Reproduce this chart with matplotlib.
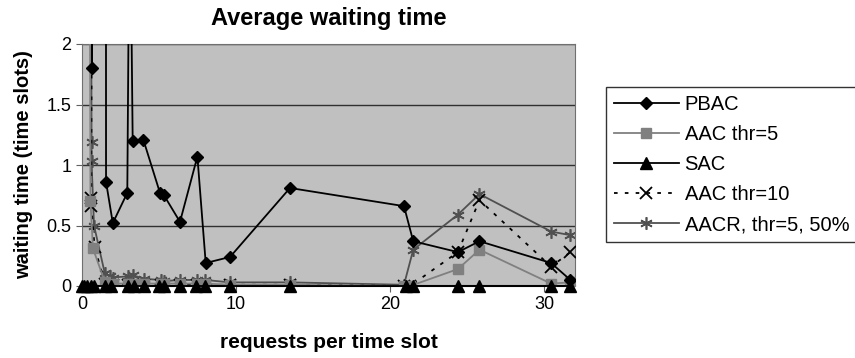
import numpy as np
import matplotlib.pyplot as plt

plt.rcParams['font.family'] = ['Liberation Sans', 'DejaVu Sans']

# data (values above 2 run off the top of the plot)
pbac_x = [0.5, 0.65, 0.72, 1.55, 1.56, 2.0, 2.94, 3.1, 3.29, 3.98, 5.06, 5.32, 6.36,
          7.49, 8.03, 9.61, 13.5, 20.9, 21.5, 24.4, 25.8, 30.45, 31.7]
pbac_y = [6.0, 1.8, 6.0, 6.0, 0.86, 0.52, 0.77, 3.5, 1.2, 1.21, 0.77, 0.75, 0.53,
          1.07, 0.19, 0.24, 0.81, 0.66, 0.37, 0.28, 0.37, 0.19, 0.05]

aac5_x = [0.48, 0.55, 0.71, 1.5, 2.0, 3.0, 3.3, 4.0, 5.1, 5.3, 6.35, 7.45, 8.0, 9.6,
          13.5, 20.9, 21.3, 24.4, 25.8, 30.45, 31.7]
aac5_y = [4.0, 0.70, 0.31, 0.03, 0.02, 0.02, 0.02, 0.02, 0.02, 0.02, 0.02, 0.02, 0.02,
          0.01, 0.01, 0.0, 0.0, 0.14, 0.30, 0.02, 0.03]

sac_x = [0.0, 0.15, 0.3, 0.6, 0.75, 1.47, 1.9, 3.0, 3.4, 4.0, 5.0, 5.3, 6.35, 7.4,
         8.0, 9.6, 13.5, 21.0, 21.5, 24.4, 25.8, 30.45, 31.7]
sac_y = [0.0] * len(sac_x)

aac10_x = [0.68, 0.6, 0.6, 0.82, 1.5, 2.0, 3.0, 4.0, 5.1, 6.35, 7.45, 8.0, 9.6,
           13.5, 20.9, 21.3, 24.4, 25.8, 30.45, 31.7]
aac10_y = [5.0, 0.73, 0.66, 0.32, 0.02, 0.01, 0.01, 0.01, 0.01, 0.01, 0.01, 0.01,
           0.01, 0.01, 0.0, 0.0, 0.28, 0.71, 0.16, 0.28]

aacr_x = [0.55, 0.62, 0.62, 0.78, 1.47, 1.8, 2.0, 3.0, 3.3, 4.0, 5.1, 5.3, 6.35,
          7.45, 8.0, 9.6, 13.5, 20.9, 21.5, 24.4, 25.8, 30.45, 31.7]
aacr_y = [5.0, 1.19, 1.03, 0.50, 0.11, 0.08, 0.07, 0.08, 0.09, 0.06, 0.05, 0.04,
          0.05, 0.05, 0.05, 0.03, 0.03, 0.01, 0.30, 0.59, 0.76, 0.45, 0.42]

x_ticks = [0, 10, 20, 30]
y_ticks = [0, 0.5, 1, 1.5, 2]
y_tick_labels = ['0', '0.5', '1', '1.5', '2']

fig = plt.figure(figsize=(8.55, 3.58), dpi=100)
ax = fig.add_axes([82/855, 1 - 286/358, (575-82)/855, (286-44)/358])
ax.set_facecolor('#c0c0c0')

ax.plot(pbac_x, pbac_y, color='black', lw=1.3, marker='D', ms=6.5,
        label='PBAC', zorder=5)
ax.plot(aac5_x, aac5_y, color='#808080', lw=1.3, marker='s', ms=6.5,
        label='AAC thr=5', zorder=4)
ax.plot(sac_x, sac_y, color='black', lw=1.3, marker='^', ms=8,
        label='SAC', zorder=6, clip_on=False)
ax.plot(aac10_x, aac10_y, color='black', lw=1.3, ls=(0, (2, 4)), marker='x', ms=8,
        mew=1.3, label='AAC thr=10', zorder=3)
ax.plot(aacr_x, aacr_y, color='#505050', lw=1.3, marker=(6, 2, 0), ms=9,
        mew=1.2, label='AACR, thr=5, 50%', zorder=2)

ax.set_xlim(0, 32)
ax.set_ylim(0, 2)
ax.set_xticks(x_ticks)
ax.set_yticks(y_ticks)
ax.set_yticklabels(y_tick_labels)
ax.tick_params(labelsize=13, direction='out', length=4, color='#606060')
ax.yaxis.grid(True, color='#303030', lw=1)
ax.set_axisbelow(True)
for s in ['left', 'top', 'right']:
    ax.spines[s].set_color('#707070')
ax.spines['bottom'].set_color('black')
ax.spines['bottom'].set_linewidth(1.5)

ax.set_title('Average waiting time', fontsize=17, fontweight='bold', pad=14)
ax.set_xlabel('requests per time slot', fontsize=15, fontweight='bold', labelpad=14)
ax.set_ylabel('waiting time (time slots)', fontsize=14.5, fontweight='bold', labelpad=10)

leg = fig.legend(loc='upper left', bbox_to_anchor=(606/855, 1 - 87/358),
                 fontsize=14.5, frameon=True, fancybox=False, shadow=False,
                 handlelength=3.2, handletextpad=0.3, labelspacing=0.55,
                 borderpad=0.4, borderaxespad=0)
leg.get_frame().set_edgecolor('black')
leg.get_frame().set_linewidth(1.0)

fig.savefig('out.png', dpi=100)
